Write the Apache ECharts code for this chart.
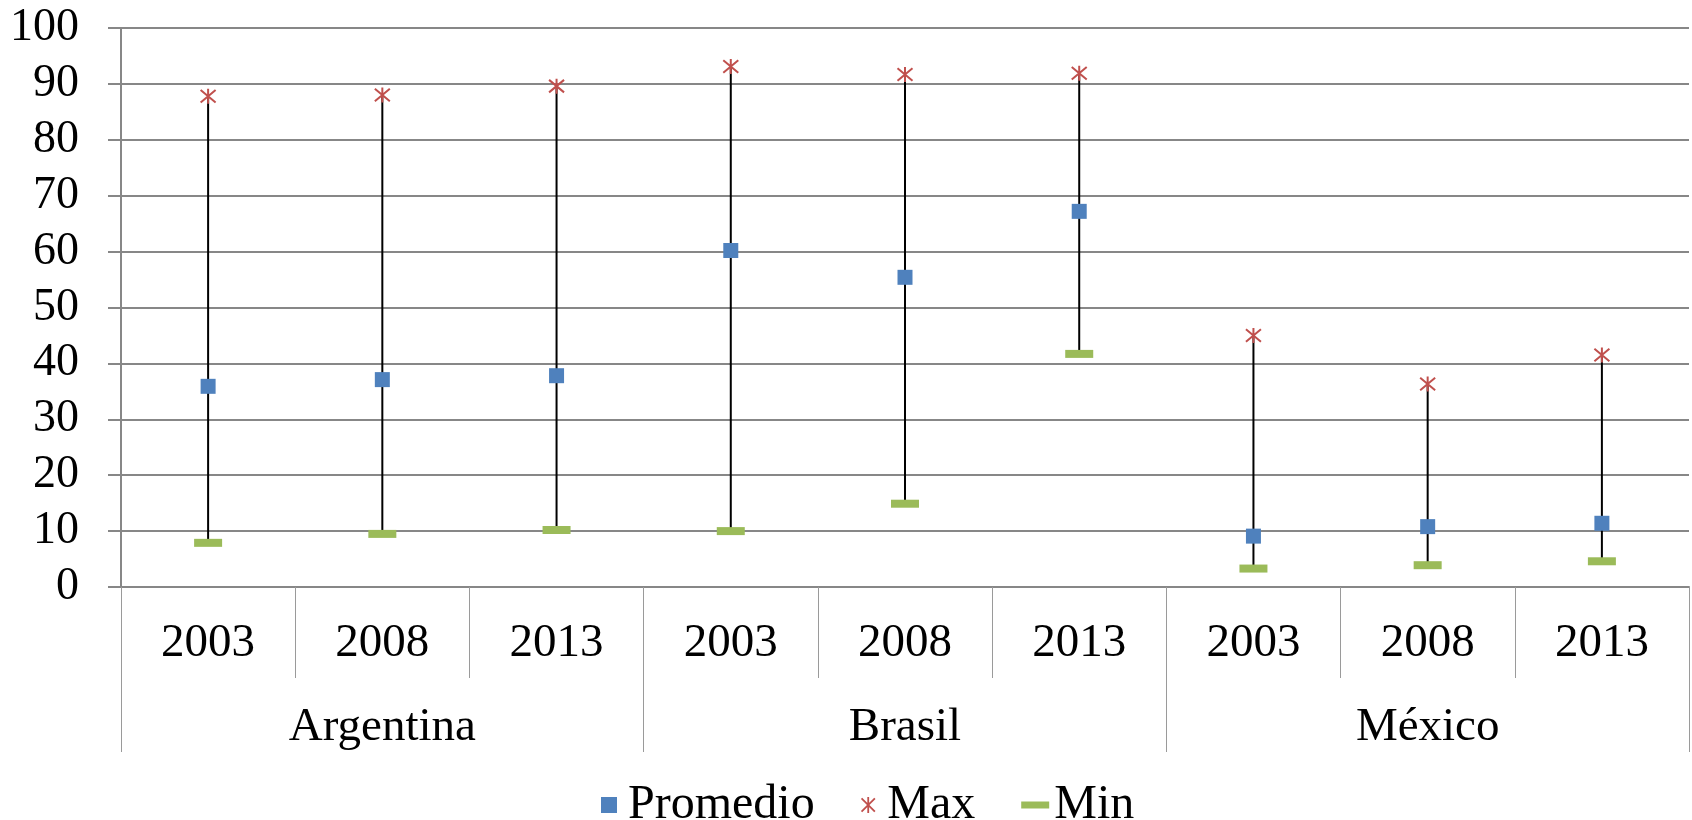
<!DOCTYPE html>
<html>
<head>
<meta charset="utf-8">
<script src="https://cdn.jsdelivr.net/npm/echarts@6/dist/echarts.min.js"></script>
<style>
html, body { margin: 0; padding: 0; background: #fff; }
#chart { width: 1692px; height: 820px; }
</style>
</head>
<body>
<div id="chart"></div>
<script>
var countries = ['Argentina', 'Brasil', 'México'];
var years = ['2003', '2008', '2013'];
var promedio = [35.9, 37.1, 37.8, 60.2, 55.4, 67.2, 9.1, 10.8, 11.4];
var maxVals = [87.8, 88.0, 89.6, 93.1, 91.7, 91.9, 45.0, 36.3, 41.5];
var minVals = [7.9, 9.5, 10.2, 10.0, 14.9, 41.7, 3.3, 3.9, 4.6];
var yTicks = [0, 10, 20, 30, 40, 50, 60, 70, 80, 90, 100];

// one slot per country/year pair
var categories = [];
countries.forEach(function (c) {
	years.forEach(function (y) {
		categories.push(c + '|' + y);
	});
});

var font = 'Liberation Serif, Times New Roman, serif';
var gridColor = '#878787';
var asterisk = 'path://M0,0L10,10M10,0L0,10M5,-1L5,11';

var lineData = [];
var avgData = [];
var maxData = [];
var minData = [];
for (var i = 0; i < categories.length; i++) {
	lineData.push([i, minVals[i], maxVals[i]]);
	avgData.push([i, promedio[i]]);
	maxData.push([i, maxVals[i]]);
	minData.push([i, minVals[i]]);
}

var chart = echarts.init(document.getElementById('chart'));
var option = {
	animation: false,
	backgroundColor: '#fff',
	textStyle: { fontFamily: font },
	grid: { left: 121, right: 3, top: 28, bottom: 233 },
	legend: {
		left: 596,
		top: 776,
		itemWidth: 28,
		itemHeight: 16,
		itemGap: 46,
		textStyle: { fontFamily: font, fontSize: 48, color: '#000' },
		data: [
			{ name: 'Promedio', icon: 'path://M0,0L10,0L10,10L0,10Z' },
			{ name: 'Max', icon: asterisk, itemStyle: { color: '#C0504D', borderColor: '#C0504D', borderWidth: 1.8 } },
			{ name: 'Min', icon: 'path://M0,0L28,0L28,7L0,7Z' }
		]
	},
	xAxis: [{
		type: 'category',
		data: categories,
		position: 'bottom',
		boundaryGap: true,
		axisLine: { show: true, lineStyle: { color: gridColor, width: 2 } },
		axisTick: { show: true, interval: 0, alignWithLabel: false, length: 91, lineStyle: { color: '#9a9a9a', width: 1 } },
		axisLabel: {
			margin: 33,
			fontSize: 47,
			color: '#000',
			fontFamily: font,
			interval: 0,
			formatter: function (v) { return v.split('|')[1]; }
		}
	}, {
		type: 'category',
		data: countries,
		position: 'bottom',
		boundaryGap: true,
		axisLine: { show: false },
		axisTick: { show: true, interval: 0, alignWithLabel: false, length: 165, lineStyle: { color: '#9a9a9a', width: 1 } },
		axisLabel: { margin: 117, fontSize: 47, color: '#000', fontFamily: font }
	}],
	yAxis: {
		type: 'value',
		min: yTicks[0],
		max: yTicks[yTicks.length - 1],
		interval: 10,
		axisLine: { show: true, lineStyle: { color: gridColor, width: 2 } },
		axisTick: { show: true, length: 13, lineStyle: { color: gridColor, width: 2 } },
		splitLine: { lineStyle: { color: gridColor, width: 2 } },
		axisLabel: { margin: 42, fontSize: 46, color: '#000', fontFamily: font }
	},
	series: [{
		// high-low lines
		name: 'range',
		type: 'custom',
		xAxisIndex: 0,
		z: 1,
		renderItem: function (params, api) {
			var lo = api.coord([api.value(0), api.value(1)]);
			var hi = api.coord([api.value(0), api.value(2)]);
			return {
				type: 'line',
				shape: { x1: lo[0], y1: lo[1], x2: hi[0], y2: hi[1] },
				style: { stroke: '#000', lineWidth: 2 }
			};
		},
		encode: { x: 0, y: [1, 2] },
		data: lineData
	}, {
		name: 'Promedio',
		type: 'scatter',
		xAxisIndex: 0,
		z: 3,
		symbol: 'rect',
		symbolSize: 15,
		itemStyle: { color: '#4F81BD', opacity: 1 },
		data: avgData
	}, {
		name: 'Max',
		type: 'scatter',
		xAxisIndex: 0,
		z: 3,
		symbol: asterisk,
		symbolSize: 15,
		itemStyle: { color: '#C0504D', borderColor: '#C0504D', borderWidth: 2, opacity: 1 },
		data: maxData
	}, {
		name: 'Min',
		type: 'scatter',
		xAxisIndex: 0,
		z: 3,
		symbol: 'rect',
		symbolSize: [28, 8],
		itemStyle: { color: '#9BBB59', opacity: 1 },
		data: minData
	}]
};
chart.setOption(option);
</script>
</body>
</html>
